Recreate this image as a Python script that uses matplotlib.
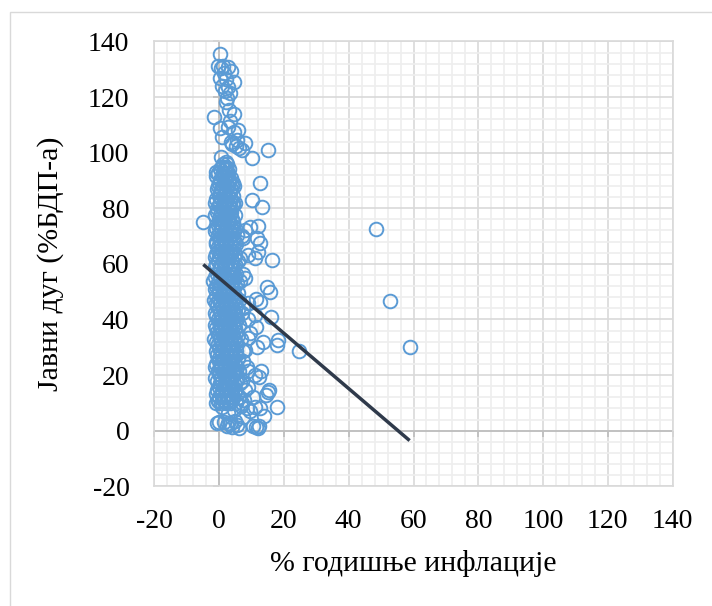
import numpy as np
import matplotlib
matplotlib.use("Agg")
import matplotlib.pyplot as plt
from matplotlib.patches import Rectangle
from matplotlib.ticker import MultipleLocator

# ---- data: annual inflation (%) vs public debt (% of GDP) ----
# main body of observations (low inflation), first group
core_infl = [
    -1.0, 0.5, 2.0, 3.4, 5.2, 7.0,
    0.0, 1.4, 2.8, 4.3, 6.1,
    -0.8, 0.9, 2.2, 3.6, 5.0, 8.0,
    0.2, 1.7, 3.1, 4.6, 6.5,
    -1.2, 0.6, 2.4, 3.9, 5.5,
    -0.4, 1.1, 2.7, 4.2, 6.0, 9.0,
    -0.9, 0.4, 1.9, 3.3, 4.8,
    0.1, 1.5, 3.0, 4.4, 5.9,
    -1.1, 0.7, 2.1, 3.6, 5.1, 7.5,
    -0.3, 1.2, 2.6, 4.0, 5.6,
    -1.5, 0.3, 1.8, 3.2, 4.7, 6.6,
    -0.6, 0.9, 2.4, 3.8, 5.3,
    -1.3, 0.2, 1.6, 3.0, 4.5, 6.2,
    -0.5, 1.0, 2.5, 3.9, 5.4,
    -1.4, 0.4, 1.9, 3.4, 4.9, 7.2,
    -0.7, 0.8, 2.3, 3.7, 5.1,
    -1.6, 0.1, 1.6, 3.1, 4.6, 6.0,
    -0.2, 1.3, 2.8, 4.2, 5.7,
    -1.0, 0.5, 2.0, 3.5, 5.0,
    -1.8, 0.0, 1.5, 2.9, 4.4, 6.3,
    -0.6, 0.9, 2.4, 3.9, 5.3,
    -1.2, 0.3, 1.8, 3.2, 4.7,
    -0.4, 1.1, 2.6, 4.1, 5.8,
    -1.0, 0.6, 2.1, 3.5, 5.0,
    -0.3, 1.2, 2.7, 4.2,
    -1.1, 0.4, 1.9, 3.4, 4.9,
    -0.5, 1.0, 2.5, 4.0, 5.5,
    -0.9, 0.6, 2.0, 3.5, 5.0,
    0.0, 1.5, 3.0, 4.4,
    -1.2, 0.4, 1.9, 3.3, 4.9,
    -0.6, 0.9, 2.4, 3.8,
    -1.4, 0.2, 1.7, 3.2, 5.0,
    -0.2, 1.3, 2.8, 4.3,
    -0.8, 0.7, 2.2, 3.7,
    0.0, 1.5, 3.0, 4.2,
    -0.9, 0.8, 2.3,
    0.4, 1.8, 3.0,
    1.2, 2.4,
]
core_debt = [
    10.0, 10.0, 10.0, 10.0, 10.0, 10.0,
    12.0, 12.0, 12.0, 12.0, 12.0,
    14.5, 14.5, 14.5, 14.5, 14.5, 14.5,
    17.0, 17.0, 17.0, 17.0, 17.0,
    19.0, 19.0, 19.0, 19.0, 19.0,
    21.5, 21.5, 21.5, 21.5, 21.5, 21.5,
    24.0, 24.0, 24.0, 24.0, 24.0,
    26.0, 26.0, 26.0, 26.0, 26.0,
    28.5, 28.5, 28.5, 28.5, 28.5, 28.5,
    31.0, 31.0, 31.0, 31.0, 31.0,
    33.0, 33.0, 33.0, 33.0, 33.0, 33.0,
    35.5, 35.5, 35.5, 35.5, 35.5,
    38.0, 38.0, 38.0, 38.0, 38.0, 38.0,
    40.0, 40.0, 40.0, 40.0, 40.0,
    42.5, 42.5, 42.5, 42.5, 42.5, 42.5,
    45.0, 45.0, 45.0, 45.0, 45.0,
    47.0, 47.0, 47.0, 47.0, 47.0, 47.0,
    49.5, 49.5, 49.5, 49.5, 49.5,
    52.0, 52.0, 52.0, 52.0, 52.0,
    54.0, 54.0, 54.0, 54.0, 54.0, 54.0,
    56.5, 56.5, 56.5, 56.5, 56.5,
    59.0, 59.0, 59.0, 59.0, 59.0,
    61.0, 61.0, 61.0, 61.0, 61.0,
    63.5, 63.5, 63.5, 63.5, 63.5,
    66.0, 66.0, 66.0, 66.0,
    68.0, 68.0, 68.0, 68.0, 68.0,
    70.5, 70.5, 70.5, 70.5, 70.5,
    73.0, 73.0, 73.0, 73.0, 73.0,
    75.0, 75.0, 75.0, 75.0,
    77.5, 77.5, 77.5, 77.5, 77.5,
    80.0, 80.0, 80.0, 80.0,
    82.0, 82.0, 82.0, 82.0, 82.0,
    84.5, 84.5, 84.5, 84.5,
    87.0, 87.0, 87.0, 87.0,
    89.0, 89.0, 89.0, 89.0,
    91.5, 91.5, 91.5,
    94.0, 94.0, 94.0,
    96.0, 96.0,
]

# main body of observations, second group
core2_infl = [
    -0.3, 1.2, 2.7, 4.1,
    -1.1, 0.6, 2.1, 3.5, 5.6,
    -0.1, 1.4, 2.9, 4.3,
    -0.7, 0.9, 2.3, 3.8, 5.2,
    0.1, 1.6, 3.1, 4.7,
    -1.3, 0.2, 1.7, 3.2, 5.4,
    -0.2, 1.2, 2.6, 4.0,
    -0.8, 0.8, 2.3, 3.7, 5.2,
    0.0, 1.5, 2.9, 4.4,
    -0.9, 0.5, 2.0, 3.5, 5.0,
    -0.1, 1.4, 2.8, 4.3, 5.9,
    -1.0, 0.4, 1.9, 3.3, 4.8,
    -0.2, 1.3, 2.8, 4.2,
    -0.9, 0.6, 2.1, 3.6, 5.1,
    -0.2, 1.2, 2.7, 4.2, 5.8,
    -1.1, 0.4, 1.9, 3.3, 4.8,
    -0.9, 0.6, 2.1, 3.5, 5.0,
    -1.4, 0.0, 1.4, 2.9, 4.4,
    -0.4, 1.1, 2.6, 4.0, 5.6,
    -1.2, 0.3, 1.7, 3.2, 4.6,
    -0.2, 1.3, 2.8, 4.3,
    -0.9, 0.6, 2.0, 3.5, 5.0,
    -1.4, 0.1, 1.6, 3.1, 4.5,
    -0.4, 1.1, 2.5, 4.0,
    -0.9, 0.6, 2.0, 3.5, 5.1,
    -0.1, 1.5, 3.0, 4.4,
    -1.2, 0.3, 1.7, 3.2, 4.7,
    -0.5, 0.9, 2.4, 3.9,
    -0.2, 1.2, 2.6, 4.1,
    -0.8, 0.7, 2.2, 3.7,
    0.0, 1.4, 2.9, 4.3,
    -0.9, 0.6, 2.1, 3.6,
    0.4, 1.9, 3.3,
    -0.4, 1.1, 2.6, 4.0,
    0.3, 1.7, 3.1,
    -0.3, 1.2, 2.6,
    0.8, 2.0,
]
core2_debt = [
    11.0, 11.0, 11.0, 11.0,
    13.3, 13.3, 13.3, 13.3, 13.3,
    15.8, 15.8, 15.8, 15.8,
    18.0, 18.0, 18.0, 18.0, 18.0,
    20.3, 20.3, 20.3, 20.3,
    22.8, 22.8, 22.8, 22.8, 22.8,
    25.0, 25.0, 25.0, 25.0,
    27.3, 27.3, 27.3, 27.3, 27.3,
    29.8, 29.8, 29.8, 29.8,
    32.0, 32.0, 32.0, 32.0, 32.0,
    34.3, 34.3, 34.3, 34.3, 34.3,
    36.8, 36.8, 36.8, 36.8, 36.8,
    39.0, 39.0, 39.0, 39.0,
    41.3, 41.3, 41.3, 41.3, 41.3,
    43.8, 43.8, 43.8, 43.8, 43.8,
    46.0, 46.0, 46.0, 46.0, 46.0,
    48.3, 48.3, 48.3, 48.3, 48.3,
    50.8, 50.8, 50.8, 50.8, 50.8,
    53.0, 53.0, 53.0, 53.0, 53.0,
    55.3, 55.3, 55.3, 55.3, 55.3,
    57.8, 57.8, 57.8, 57.8,
    60.0, 60.0, 60.0, 60.0, 60.0,
    62.3, 62.3, 62.3, 62.3, 62.3,
    64.8, 64.8, 64.8, 64.8,
    67.0, 67.0, 67.0, 67.0, 67.0,
    69.3, 69.3, 69.3, 69.3,
    71.8, 71.8, 71.8, 71.8, 71.8,
    74.0, 74.0, 74.0, 74.0,
    76.3, 76.3, 76.3, 76.3,
    78.8, 78.8, 78.8, 78.8,
    81.0, 81.0, 81.0, 81.0,
    83.3, 83.3, 83.3, 83.3,
    85.8, 85.8, 85.8,
    88.0, 88.0, 88.0, 88.0,
    90.3, 90.3, 90.3,
    92.8, 92.8, 92.8,
    95.0, 95.0,
]

# very low debt observations
low_infl = [0.0, -0.3, 0.8, 1.6, 2.5, 3.3, 4.0, 5.0, 6.0, 2.8, 4.5, 7.5, 8.5,
            9.5, 11.0, 11.5, 12.0, 12.3, 10.3, 13.8, 17.8, 12.5, 6.8, 15.0,
            15.5, 14.5, 5.4, 2.7, -0.8]
low_debt = [3.2, 10.8, 8.5, 3.0, 1.8, 2.5, 1.2, 3.5, 1.0, 6.5, 7.5, 5.0, 8.0,
            7.2, 8.5, 1.2, 0.8, 1.6, 1.8, 5.4, 8.6, 8.0, 8.8, 13.9,
            14.5, 13.0, 2.0, 2.7, 2.7]

# high debt observations
high_infl = [0.3, -0.4, 0.5, 1.2, 2.7, 3.5, 1.5, 0.2, 2.0, 4.5, 0.8, 2.8,
             1.8, 3.4, 2.4, 2.0, 3.0, 4.5, -1.5, 3.4, 0.3, 2.8, 5.8, 4.6,
             1.0, 3.6, 5.2, 6.0, 0.6, 2.2, -1.1, 2.0, 1.0, 3.6, 4.5]
high_debt = [135.3, 131.0, 130.5, 131.2, 130.8, 129.5, 128.5, 127.0, 126.5,
             125.3, 124.0, 123.6, 122.0, 121.5, 119.6, 118.2, 115.3, 114.0,
             112.9, 111.5, 108.8, 109.2, 108.3, 107.4, 105.5, 104.0, 102.5,
             101.5, 98.6, 96.5, 93.0, 94.0, 92.0, 91.0, 88.0]

# higher inflation observations
spread_infl = [7.0, 8.0, 5.5, 4.0, 10.0, 15.2, 12.6, 10.0, 13.1, 4.3, -4.9,
               12.0, 9.5, 8.0, 7.0, 7.4, 11.6, 12.5, 9.0, 12.1, 11.0, 16.2,
               6.5, 8.0, 7.3, 14.7, 15.7, 12.6, 11.5, 8.9, 7.5, 11.0, 16.0,
               9.0, 11.5, 8.9, 8.0, 13.6, 11.6, 17.7, 18.2, 24.8, 9.5, 7.5,
               8.7, 12.9, 11.0, 12.2, 7.0, 9.0, 10.5, 7.8, 48.3, 52.6, 58.8]
spread_debt = [100.9, 103.4, 104.5, 103.0, 98.2, 100.9, 89.0, 82.9, 80.5,
               81.8, 75.1, 73.6, 73.3, 72.0, 70.0, 69.3, 69.3, 67.6, 63.2,
               64.4, 62.1, 61.4, 62.0, 54.9, 56.2, 51.8, 50.0, 46.4, 47.5,
               45.9, 44.0, 41.6, 40.9, 40.0, 37.4, 33.3, 29.0, 31.9, 30.2,
               30.8, 32.6, 28.6, 35.0, 25.0, 22.9, 21.4, 20.0, 19.3, 18.0,
               15.8, 12.0, 11.0, 72.6, 46.7, 30.0]

# linear trend line
trend_slope = -0.994
trend_intercept = 54.9

axis_ticks = [-20, 0, 20, 40, 60, 80, 100, 120, 140]

inflation = np.array(core_infl + core2_infl + low_infl + high_infl + spread_infl)
debt = np.array(core_debt + core2_debt + low_debt + high_debt + spread_debt)

# ---- figure ----
plt.rcParams["font.family"] = ["Liberation Serif", "DejaVu Serif"]
plt.rcParams["axes.unicode_minus"] = False
fig = plt.figure(figsize=(7.12, 6.06), dpi=100)
fig.patches.append(Rectangle((10 / 712, -0.1), 1.2, 1 - 12 / 606 + 0.1,
                             transform=fig.transFigure, fill=False,
                             edgecolor="#D9D9D9", linewidth=1.0))
ax = fig.add_axes([154.4 / 712, 1 - 486.3 / 606, 518.2 / 712, 444.9 / 606])

ax.set_xlim(-20, 140)
ax.set_ylim(-20, 140)
ax.set_xticks(axis_ticks)
ax.set_yticks(axis_ticks)
ax.xaxis.set_minor_locator(MultipleLocator(4))
ax.yaxis.set_minor_locator(MultipleLocator(4))
ax.grid(which="minor", color="#EEEEEE", linewidth=1.2, zorder=0)
ax.grid(which="major", color="#D9D9D9", linewidth=1.2, zorder=0)
ax.set_axisbelow(True)
for s in ax.spines.values():
    s.set_color("#D9D9D9")
    s.set_linewidth(1.2)

# zero axes with small tick marks
ax.axhline(0, color="#BFBFBF", linewidth=1.3, zorder=1)
ax.axvline(0, color="#BFBFBF", linewidth=1.3, zorder=1)
ax.plot(axis_ticks, [0] * len(axis_ticks), ls="", marker=3, ms=4,
        mew=1.3, color="#BFBFBF", zorder=1, clip_on=False)
ax.plot([0] * len(axis_ticks), axis_ticks, ls="", marker=0, ms=4,
        mew=1.3, color="#BFBFBF", zorder=1, clip_on=False)

ax.tick_params(which="both", length=0)
ax.tick_params(axis="x", pad=16, labelsize=20)
ax.tick_params(axis="y", pad=18, labelsize=20)

ax.plot(inflation, debt, ls="", marker="o", ms=9.8, mfc="none",
        mec="#5B9BD5", mew=1.4, zorder=3)

tx = np.array([inflation.min(), inflation.max()])
ax.plot(tx, trend_slope * tx + trend_intercept, color="#2F3A4B",
        linewidth=2.5, solid_capstyle="butt", zorder=4)

ax.set_xlabel("% годишње инфлације", fontsize=21.5, labelpad=12)
ax.set_ylabel("Јавни дуг (%БДП-а)", fontsize=21.5, labelpad=17)

fig.savefig("out.png", dpi=100)
